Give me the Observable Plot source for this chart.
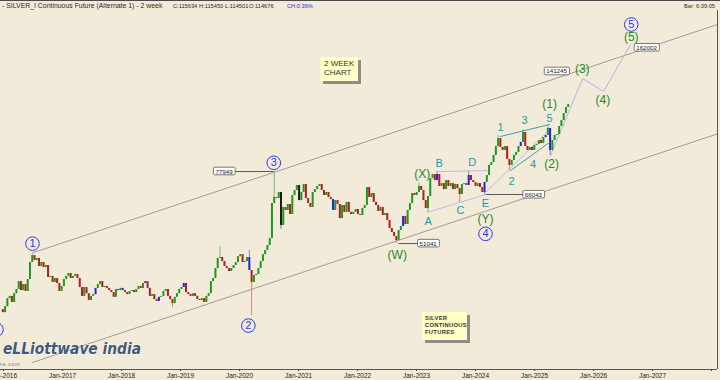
<!DOCTYPE html>
<html><head><meta charset="utf-8">
<script src="https://cdn.jsdelivr.net/npm/d3@7"></script>
<script src="https://cdn.jsdelivr.net/npm/@observablehq/plot@0.6"></script>
<style>
html,body{margin:0;padding:0;background:#F3EBD9;}
#wrap{position:relative;width:720px;height:380px;overflow:hidden;background:#F3EBD9;font-family:"Liberation Sans",Arial,sans-serif;}
#head{position:relative;height:10px;border-top:1px solid #4a4a4a;box-sizing:border-box;}
#head span{position:absolute;top:1px;font-size:5.7px;line-height:8px;color:#2a2a2a;white-space:pre;}
#head span.t{font-size:6.9px;}
#chart svg{display:block;}
.note{position:absolute;background:#FFFFC6;box-shadow:3px 3px 0 #8E8C84;color:#333;box-sizing:border-box;}
</style></head><body>
<div id="wrap">
  <div id="head">
    <span class="t" style="left:2px">- SILVER_I Continuous Future (Alternate 1) - 2 week</span>
    <span style="left:173px">C:115634</span>
    <span style="left:199px">H:115450</span>
    <span style="left:225px">L:114501</span>
    <span style="left:249px">O:114676</span>
    <span style="left:287px;color:#2B2BE0">CH:0.36%</span>
    <span style="left:684px">Bar: 6:39:05</span>
  </div>
  <div id="chart"></div>
  <div class="note" style="left:320px;top:57px;width:38px;height:24px;padding:2px 0 0 4px;font-size:8px;line-height:9px;">2 WEEK<br>CHART</div>
  <div class="note" style="left:422px;top:312px;width:45px;height:28px;padding:2.5px 0 0 3px;font-size:5.8px;line-height:7.3px;font-weight:bold;letter-spacing:0.3px;">SILVER<br>CONTINUOUS<br>FUTURES</div>
  <svg style="position:absolute;left:0;top:339px" width="170" height="20">
    <text x="3" y="15" textLength="138" lengthAdjust="spacingAndGlyphs" font-family="DejaVu Sans" font-weight="bold" font-style="italic" font-size="15" fill="#3E5C7E" stroke="#ffffff" stroke-width="0.5" paint-order="stroke">eLLiottwave india</text>
  </svg>
  <div style="position:absolute;left:0;top:361px;font-size:5.5px;letter-spacing:0.6px;color:#777;">re.com</div>
</div>
<script>
// ---------- DATA ----------
const barStart = "2015-12-28";      // first 2-week bar
const barStepDays = 14;
const firstOpen = 34.6;             // thousands of rupees
const closes = [
  34.0, 35.2, 36.9, 37.4, 36.1, 38.0, 38.95, 40.8, 38.7, 40.1,
  38.5, 41.3, 45.65, 47.55, 46.2, 46.75, 44.6, 45.65, 44.3, 44.85,
  41.8, 42.05, 40.6, 41.55, 40.35, 38.5, 39.65, 41.3, 42.05, 42.8,
  41.55, 42.05, 42.55, 41.55, 39.4, 37.4, 39.4, 38.0, 36.5, 37.4,
  37.8, 39.2, 40.1, 40.8, 39.4, 39.65, 39.2, 38.7, 38.25, 37.2,
  38.95, 38.7, 39.2, 38.7, 38.25, 37.8, 38.5, 38.7, 38.25, 38.95,
  39.65, 39.2, 40.35, 40.8, 39.2, 37.4, 37.8, 36.7, 36.3, 37.2,
  37.4, 38.5, 38.95, 37.4, 36.7, 35.85, 37.2, 38.0, 38.95, 39.4,
  40.35, 38.25, 37.8, 37.4, 38.0, 37.4, 36.7, 36.5, 36.9, 36.1,
  37.4, 38.0, 40.8, 41.55, 44.05, 46.75, 47.0, 45.9, 44.6, 44.05,
  43.3, 44.05, 44.85, 45.65, 47.25, 47.8, 45.65, 45.9, 47.0, 43.55,
  40.6, 42.3, 42.55, 44.05, 45.9, 47.8, 49.0, 50.45, 52.6, 64.6,
  66.9, 66.5, 68.9, 56.75, 63.1, 62.0, 64.2, 60.55, 67.7, 69.7,
  71.8, 65.7, 68.9, 72.2, 66.5, 64.6, 63.1, 68.9, 70.1, 71.4,
  72.2, 69.7, 67.7, 68.9, 66.9, 66.1, 62.0, 65.7, 64.2, 59.1,
  63.85, 61.3, 65.0, 61.3, 60.55, 61.3, 62.35, 60.55, 60.2, 62.7,
  63.85, 70.95, 66.9, 68.5, 65.0, 63.85, 61.65, 63.1, 60.2, 60.9,
  58.45, 55.75, 54.45, 53.2, 51.95, 55.1, 56.4, 59.85, 57.1, 62.0,
  64.6, 68.5, 67.7, 68.9, 71.4, 69.7, 65.7, 62.7, 67.3, 74.8,
  76.6, 73.9, 76.6, 71.4, 72.6, 70.1, 73.9, 71.4, 72.6, 70.1,
  72.2, 70.5, 68.1, 72.2, 72.6, 71.8, 76.15, 73.9, 73.1, 71.4,
  72.6, 70.95, 68.9, 73.1, 76.15, 80.8, 82.2, 85.7, 90.3, 94.65,
  89.8, 88.2, 90.3, 83.7, 80.8, 83.2, 85.7, 87.2, 90.3, 92.5,
  98.1, 90.3, 88.2, 89.8, 88.2, 90.85, 91.4, 93.55, 91.9, 95.2,
  96.35, 100.4, 88.2, 93.55, 96.35, 96.9, 101.6, 105.2, 109.6, 113.6, 115.6
];
const highMarks = [[13,48.3],[96,50.1],[109,49.0],[120,77.95],[184,72.9],[192,78.0],[206,78.2],[219,96.35],[230,99.7],[241,102.7]];
const lowMarks = [[75,35.0],[110,33.4],[123,55.5],[174,51.04],[188,61.3],[202,64.9],[213,68.1],[224,78.4],[242,85.7]];
const blueBars = [41,53,63,69,80,87,109,146,177,192,206,213,229,240,242];
const blackBars = [123,131];

const circled = [
  {t:2016.49,v:51.0,n:"1"},{t:2020.15,v:31.5,n:"2"},{t:2020.58,v:82.05,n:"3"},
  {t:2024.17,v:54.04,n:"4"},{t:2026.639,v:185.1,n:"5"},{t:2015.881,v:30.78,n:""}
];
const greenLabels = [
  {t:2022.673,v:47.76,s:"(W)"},{t:2023.097,v:76.9,s:"(X)"},{t:2024.169,v:58.78,s:"(Y)"},
  {t:2025.254,v:115.6,s:"(1)"},{t:2025.288,v:81.24,s:"(2)"},{t:2025.808,v:142.0,s:"(3)"},
  {t:2026.158,v:118.4,s:"(4)"},{t:2026.639,v:171.8,s:"(5)"}
];
const tealLabels = [
  {t:2023.198,v:58.1,s:"A"},{t:2023.385,v:81.9,s:"B"},{t:2023.746,v:62.0,s:"C"},
  {t:2023.944,v:82.3,s:"D"},{t:2024.169,v:64.5,s:"E"},
  {t:2024.424,v:101.0,s:"1"},{t:2024.61,v:73.7,s:"2"},{t:2024.831,v:105.2,s:"3"},
  {t:2024.975,v:81.24,s:"4"},{t:2025.254,v:106.5,s:"5"}
];
const valueBoxes = [
  {t:2019.737,v:77.949,s:"77949"},{t:2023.198,v:51.0,s:"51041"},{t:2024.98,v:68.0,s:"66043"},
  {t:2025.373,v:140.4,s:"141245"},{t:2026.898,v:161.4,s:"162002"}
];
const connectors = [
  {t1:2019.898,t2:2020.576,v:77.949},
  {t1:2022.695,t2:2023.051,v:51.041},
  {t1:2024.169,t2:2024.898,v:68.1}
];
const upperChannel = [{t:2016.508,v:48.4},{t:2028.102,v:185.1}];
const lowerChannel = [{t:2016.49,v:25.35},{t:2028.102,v:97.3}];
const tealUpper = [{t:2024.424,v:95.8},{t:2025.254,v:102.8}];
const tealLower = [{t:2024.593,v:78.4},{t:2025.254,v:92.5}];
const lavAE = [{t:2023.186,v:61.3},{t:2024.169,v:68.1}];
const lavBD = [{t:2023.351,v:77.9},{t:2024.198,v:78.4}];
const lavE = [{t:2024.174,v:68.9},{t:2025.237,v:99.2}];
const projection = [{t:2025.271,v:85.7},{t:2025.814,v:134.7},{t:2026.169,v:124.8},{t:2026.627,v:164.6}];
const axisYears = [2016,2017,2018,2019,2020,2021,2022,2023,2024,2025,2026,2027,2028];

// ---------- BUILD ----------
const yr = t => { const y = Math.floor(t); const a = Date.UTC(y,0,1), b = Date.UTC(y+1,0,1); return new Date(a + (t-y)*(b-a)); };
const hiMap = new Map(highMarks), loMap = new Map(lowMarks);
const blueSet = new Set(blueBars), blackSet = new Set(blackBars);
const start = new Date(barStart);
const bars = closes.map((c,i) => {
  const open = i ? closes[i-1] : firstOpen;
  const high = Math.max(open, c, hiMap.has(i) ? hiMap.get(i) : 0);
  const low = Math.min(open, c, loMap.has(i) ? loMap.get(i) : Infinity);
  let color = c >= open ? "#1E9A1E" : "#B01E1E", wick = c >= open ? "#72BC72" : "#C98A8A";
  if (blueSet.has(i)) { color = "#2222E0"; wick = "#8080E8"; }
  if (blackSet.has(i)) { color = "#1A1A1A"; wick = "#777777"; }
  return {date: d3.utcDay.offset(start, barStepDays*i), open, close: c, high, low, color, wick};
});
const X = d => yr(d.t);
const font = "'Liberation Sans', Arial, sans-serif";

const plot = Plot.plot({
  width: 720, height: 370,
  marginTop: 0, marginBottom: 11, marginLeft: 0, marginRight: 3,
  style: {background: "transparent", fontFamily: font},
  x: {type: "utc", domain: [yr(2015.9492), yr(2028.1017)], axis: null},
  y: {type: "log", domain: [24.33, 200.96], axis: null},
  color: {type: "identity"},
  marks: [
    Plot.line(upperChannel, {x: X, y: "v", stroke: "#A39C92", strokeWidth: 1}),
    Plot.line(lowerChannel, {x: X, y: "v", stroke: "#A39C92", strokeWidth: 1}),
    Plot.line(lavAE, {x: X, y: "v", stroke: "#BDBDE6", strokeWidth: 1}),
    Plot.line(lavBD, {x: X, y: "v", stroke: "#BDBDE6", strokeWidth: 1}),
    Plot.line(lavE, {x: X, y: "v", stroke: "#BDBDE6", strokeWidth: 1}),
    Plot.line(projection, {x: X, y: "v", stroke: "#B4B4E6", strokeWidth: 1}),
    Plot.link(connectors, {x1: d => yr(d.t1), x2: d => yr(d.t2), y1: "v", y2: "v", stroke: "#5a5a5a", strokeWidth: 1}),
    Plot.ruleX(bars, {x: "date", y1: "low", y2: "high", stroke: "wick", strokeWidth: 1}),
    Plot.ruleX(bars, {x: "date", y1: "open", y2: "close", stroke: "color", strokeWidth: 2}),
    Plot.line(tealUpper, {x: X, y: "v", stroke: "#34A6A6", strokeWidth: 1}),
    Plot.line(tealLower, {x: X, y: "v", stroke: "#34A6A6", strokeWidth: 1}),
    Plot.dot(circled, {x: X, y: "v", r: 6.8, stroke: "#2A3AE6", strokeWidth: 1, fill: "#F3EBD9"}),
    Plot.text(circled, {x: X, y: "v", text: "n", fill: "#2A3AE6", fontSize: 11, fontFamily: font}),
    Plot.text(greenLabels, {x: X, y: "v", text: "s", fill: "#1F8A1F", fontSize: 12, fontFamily: font}),
    Plot.text(tealLabels, {x: X, y: "v", text: "s", fill: "#1E9C9C", fontSize: 11, fontFamily: font}),
    Plot.text(valueBoxes, {x: X, y: "v", text: "s", fill: "#222", fontSize: 6.2, fontFamily: font}),
    Plot.ruleY([24.33], {stroke: "#555", strokeWidth: 1}),
    Plot.ruleX([yr(2028.1017)], {stroke: "#555", strokeWidth: 1}),
    Plot.axisX(axisYears.map(y => yr(y)), {
      tickFormat: d => d.getUTCFullYear() < 2028 ? "Jan-" + d.getUTCFullYear() : "",
      tickSize: 2, tickPadding: 1.5, fontSize: 6.5, stroke: "#444", fill: "#222", label: null, fontFamily: font
    })
  ]
});
document.getElementById("chart").append(plot);
const boxLabels = new Set(valueBoxes.map(d => d.s));
plot.querySelectorAll("text").forEach(t => {
  if (!boxLabels.has(t.textContent)) return;
  const b = t.getBBox();
  const r = document.createElementNS("http://www.w3.org/2000/svg", "rect");
  r.setAttribute("x", b.x - 2); r.setAttribute("y", b.y - 0.3);
  r.setAttribute("width", b.width + 4); r.setAttribute("height", b.height + 0.6);
  r.setAttribute("rx", 1.5); r.setAttribute("fill", "#ffffff");
  r.setAttribute("stroke", "#555"); r.setAttribute("stroke-width", 0.8);
  if (t.getAttribute("transform")) r.setAttribute("transform", t.getAttribute("transform"));
  t.parentNode.insertBefore(r, t);
});
</script>
</body></html>
